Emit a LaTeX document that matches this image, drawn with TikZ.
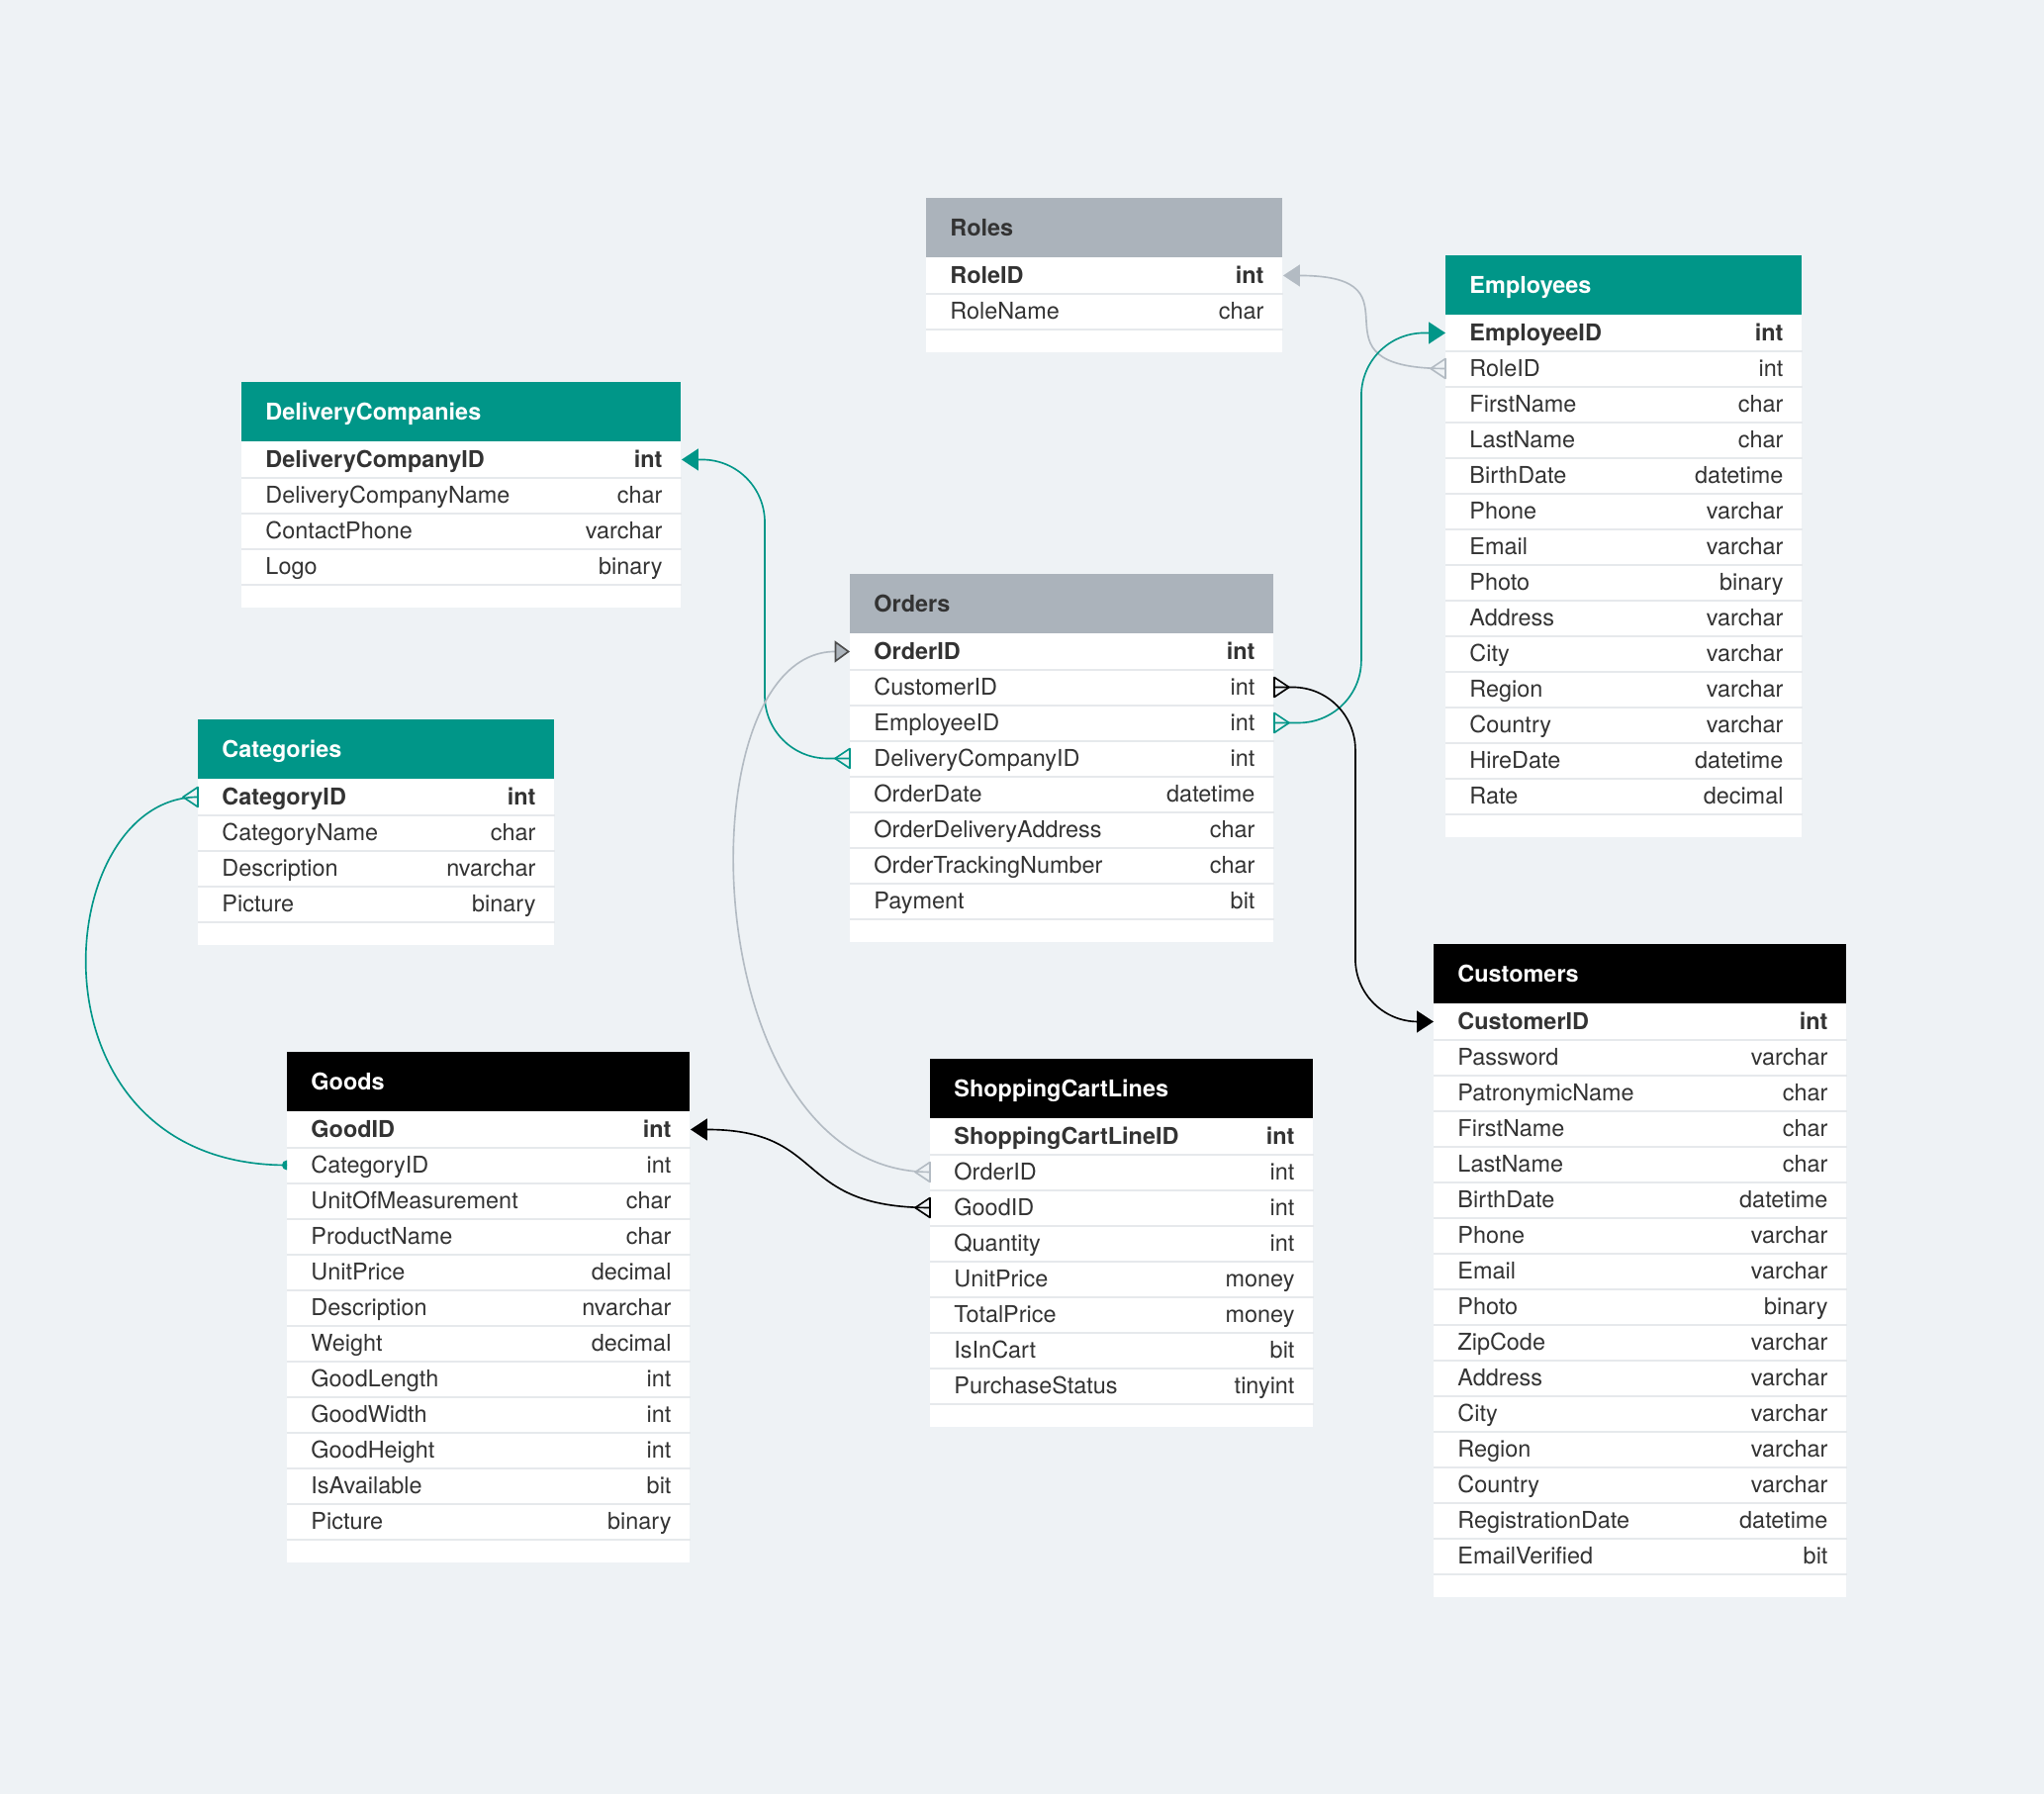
\documentclass[tikz,border=0pt]{standalone}
\usepackage{fontspec}
\setmainfont{TeX Gyre Heros}
\usetikzlibrary{arrows.meta,calc}
\definecolor{bgc}{HTML}{EEF2F5}
\definecolor{erteal}{HTML}{009688}
\definecolor{ergrey}{HTML}{ABB3BB}
\definecolor{linegrey}{HTML}{B3BBC3}
\definecolor{sepc}{HTML}{E6E9EC}
\definecolor{txt}{HTML}{333333}
\tikzset{
  tabhead/.style={anchor=north west, inner sep=0, minimum height=0.9cm},
  tabrow/.style={anchor=north west, inner sep=0, minimum height=0.54cm},
  fld/.style={inner sep=0, text=txt, font=\fontsize{10pt}{12pt}\selectfont},
  greyhead/.style={fill=ergrey}, greyhead text/.style={text=txt},
  tealhead/.style={fill=erteal}, tealhead text/.style={text=white},
  blackhead/.style={fill=black}, blackhead text/.style={text=white},
  rowsep/.style={draw=sepc, line width=0.03cm},
  lnk/.style={line width=0.7pt, line join=round},
  lteal/.style={lnk, draw=erteal},
  lgrey/.style={lnk, draw=linegrey},
  lblack/.style={lnk, draw=black},
  tip/.style={-{Triangle[length=0.255cm, width=0.33cm]}},
}
\newcommand{\erdtable}[7]{%
  \fill [white] (#2,#3) rectangle ++(#4,{60+#5*36+24});
  \node [tabhead, #6, minimum width=#4*0.015cm] (#1) at (#2,#3) {};
  \node [fld, #6 text, anchor=base west, font=\fontsize{10pt}{12pt}\selectfont\bfseries] at ([xshift=0.36cm, yshift=-0.12cm]#1.west) {#1};
  \foreach \fn/\ty [count=\i] in {#7} {
    \node [tabrow, minimum width=#4*0.015cm] (#1-\fn) at (#2,{#3+24+\i*36}) {};
    \draw [rowsep] (#1-\fn.south west) -- (#1-\fn.south east);
    \node [fld, anchor=base west] at ([xshift=0.36cm, yshift=-0.12cm]#1-\fn.west) {\ifnum\i=1 \bfseries\fi\fn};
    \node [fld, anchor=base east] at ([xshift=-0.285cm, yshift=-0.12cm]#1-\fn.east) {\ifnum\i=1 \bfseries\fi\ty};
  }
}
\newcommand{\crowE}[2]{\draw [#2] ([yshift=0.15cm]#1) -- ([xshift=0.225cm]#1) -- ([yshift=-0.15cm]#1) -- cycle;}
\newcommand{\crowW}[2]{\draw [#2] ([yshift=0.15cm]#1) -- ([xshift=-0.225cm]#1) -- ([yshift=-0.15cm]#1) -- cycle;}
\begin{document}
\begin{tikzpicture}[x=0.015cm, y=-0.015cm]
\fill [bgc] (0,0) rectangle (2066,1813);

\erdtable{Roles}{936}{200}{360}{2}{greyhead}{RoleID/int, RoleName/char}
\erdtable{Employees}{1461}{258}{360}{14}{tealhead}{EmployeeID/int, RoleID/int, FirstName/char, LastName/char, BirthDate/datetime, Phone/varchar, Email/varchar, Photo/binary, Address/varchar, City/varchar, Region/varchar, Country/varchar, HireDate/datetime, Rate/decimal}
\erdtable{DeliveryCompanies}{244}{386}{444}{4}{tealhead}{DeliveryCompanyID/int, DeliveryCompanyName/char, ContactPhone/varchar, Logo/binary}
\erdtable{Orders}{859}{580}{428}{8}{greyhead}{OrderID/int, CustomerID/int, EmployeeID/int, DeliveryCompanyID/int, OrderDate/datetime, OrderDeliveryAddress/char, OrderTrackingNumber/char, Payment/bit}
\erdtable{Categories}{200}{727}{360}{4}{tealhead}{CategoryID/int, CategoryName/char, Description/nvarchar, Picture/binary}
\erdtable{Goods}{290}{1063}{407}{12}{blackhead}{GoodID/int, CategoryID/int, UnitOfMeasurement/char, ProductName/char, UnitPrice/decimal, Description/nvarchar, Weight/decimal, GoodLength/int, GoodWidth/int, GoodHeight/int, IsAvailable/bit, Picture/binary}
\erdtable{ShoppingCartLines}{940}{1070}{387}{8}{blackhead}{ShoppingCartLineID/int, OrderID/int, GoodID/int, Quantity/int, UnitPrice/money, TotalPrice/money, IsInCart/bit, PurchaseStatus/tinyint}
\erdtable{Customers}{1449}{954}{417}{16}{blackhead}{CustomerID/int, Password/varchar, PatronymicName/char, FirstName/char, LastName/char, BirthDate/datetime, Phone/varchar, Email/varchar, Photo/binary, ZipCode/varchar, Address/varchar, City/varchar, Region/varchar, Country/varchar, RegistrationDate/datetime, EmailVerified/bit}

\draw [lgrey, tip] (Employees-RoleID.west) .. controls +(-150,0) and +(150,0) .. (Roles-RoleID.east);
\crowW{Employees-RoleID.west}{lgrey}
\draw [lteal, tip, rounded corners=0.95cm] (Orders-EmployeeID.east) -- ++(88,0) |- (Employees-EmployeeID.west);
\crowE{Orders-EmployeeID.east}{lteal}
\draw [lblack, tip, rounded corners=0.95cm] (Orders-CustomerID.east) -- ++(82,0) |- (Customers-CustomerID.west);
\crowE{Orders-CustomerID.east}{lblack}
\draw [lteal, tip, rounded corners=0.95cm] (Orders-DeliveryCompanyID.west) -- ++(-86,0) |- (DeliveryCompanies-DeliveryCompanyID.east);
\crowW{Orders-DeliveryCompanyID.west}{lteal}
\draw [lgrey, -{Triangle[length=0.23cm, width=0.33cm, fill=ergrey, color=black!70]}] (ShoppingCartLines-OrderID.west) .. controls +(-240,0) and +(-170,0) .. (Orders-OrderID.west);
\crowW{ShoppingCartLines-OrderID.west}{lgrey}
\draw [lblack, tip] (ShoppingCartLines-GoodID.west) .. controls +(-140,0) and +(140,0) .. (Goods-GoodID.east);
\crowW{ShoppingCartLines-GoodID.west}{lblack}
\draw [lteal] (Goods-CategoryID.west) .. controls +(-270,0) and +(-150,0) .. (Categories-CategoryID.west);
\crowW{Categories-CategoryID.west}{lteal}
\fill [erteal] ([yshift=0.075cm]Goods-CategoryID.west) arc [start angle=90, end angle=270, radius=0.075cm] -- cycle;
\end{tikzpicture}
\end{document}
